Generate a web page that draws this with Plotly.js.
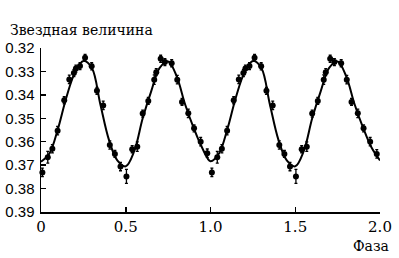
<!DOCTYPE html>
<html><head><meta charset="utf-8">
<script src="https://cdn.plot.ly/plotly-3.0.1.min.js"></script>
<style>html,body{margin:0;padding:0;background:#fff;}#chart{width:399px;height:258px;}</style>
</head><body><div id="chart"></div>
<script>
const phase = [0.008,0.040,0.067,0.098,0.137,0.167,0.194,0.206,0.230,0.260,0.299,0.330,0.367,0.406,0.436,0.469,0.504,0.538,0.568,0.600,0.633,0.668,0.680,0.706,0.731,0.771,0.804,0.832,0.869,0.903,0.942,0.981,
 1.008,1.040,1.067,1.098,1.137,1.167,1.194,1.206,1.230,1.260,1.299,1.330,1.367,1.406,1.436,1.469,1.504,1.538,1.568,1.600,1.633,1.668,1.680,1.706,1.731,1.771,1.804,1.832,1.869,1.903,1.942,1.981];
const mag = [0.3731,0.3666,0.3630,0.3553,0.3423,0.3334,0.3307,0.3288,0.3277,0.3242,0.3278,0.3383,0.3445,0.3614,0.3652,0.3706,0.3748,0.3632,0.3621,0.3480,0.3426,0.3335,0.3303,0.3246,0.3260,0.3265,0.3335,0.3430,0.3479,0.3543,0.3600,0.3649,
 0.3731,0.3666,0.3630,0.3553,0.3423,0.3334,0.3307,0.3288,0.3277,0.3242,0.3278,0.3383,0.3445,0.3614,0.3652,0.3706,0.3748,0.3632,0.3621,0.3480,0.3426,0.3335,0.3303,0.3246,0.3260,0.3265,0.3335,0.3430,0.3479,0.3543,0.3600,0.3652];
const err = [0.0018,0.0025,0.0018,0.0018,0.0015,0.0018,0.0015,0.0015,0.0015,0.0015,0.0015,0.0015,0.0018,0.0018,0.0015,0.0018,0.0030,0.0015,0.0020,0.0015,0.0015,0.0020,0.0015,0.0015,0.0015,0.0015,0.0018,0.0015,0.0018,0.0015,0.0018,0.0018,
 0.0018,0.0025,0.0018,0.0018,0.0015,0.0018,0.0015,0.0015,0.0015,0.0015,0.0015,0.0015,0.0018,0.0018,0.0015,0.0018,0.0030,0.0015,0.0020,0.0015,0.0015,0.0020,0.0015,0.0015,0.0015,0.0015,0.0018,0.0015,0.0018,0.0015,0.0018,0.0018];
const curvePhase = [0,0.05,0.10,0.15,0.20,0.25,0.30,0.35,0.40,0.45,0.50,0.55,0.60,0.65,0.70,0.75,0.80,0.85,0.90,0.95,
 1.00,1.05,1.10,1.15,1.20,1.25,1.30,1.35,1.40,1.45,1.50,1.55,1.60,1.65,1.70,1.75,1.80,1.85,1.90,1.95,2.00];
const curveMag = [0.3685,0.3650,0.3545,0.3410,0.3305,0.3255,0.3285,0.3440,0.3590,0.3680,0.3705,0.3640,0.3500,0.3385,0.3285,0.3258,0.3320,0.3440,0.3540,0.3625,
 0.3683,0.3650,0.3545,0.3410,0.3305,0.3255,0.3285,0.3440,0.3590,0.3680,0.3705,0.3640,0.3500,0.3385,0.3285,0.3258,0.3320,0.3440,0.3540,0.3625,0.3680];
const yTicks = [0.32,0.33,0.34,0.35,0.36,0.37,0.38,0.39];
const yTickText = ['0.32','0.33','0.34','0.35','0.36','0.37','0.38','0.39'];
const xTicks = [0,0.5,1.0,1.5,2.0];
const xTickText = ['0','0.5','1.0','1.5','2.0'];

const traces = [
 {x: curvePhase, y: curveMag, mode:'lines', line:{color:'#000', width:2, shape:'spline', smoothing:1}, hoverinfo:'skip', cliponaxis:false},
 {x: phase, y: mag, mode:'markers', marker:{color:'#000', size:6},
  error_y:{type:'data', array: err, visible:true, color:'#000', thickness:1.3, width:1.5}, cliponaxis:false}
];
const serif = '"DejaVu Serif", serif';
const layout = {
 width:399, height:258, showlegend:false,
 margin:{l:41, r:19, t:48, b:46},
 paper_bgcolor:'#fff', plot_bgcolor:'#fff',
 xaxis:{range:[0,2.0], tickvals:xTicks, ticktext:xTickText, ticks:'inside', ticklen:5, tickwidth:1.5, tickcolor:'#000',
   showline:true, linecolor:'#000', linewidth:1.5, showgrid:false, zeroline:false,
   tickfont:{family:serif, size:15, color:'#000'}, ticklabelstandoff:0},
 yaxis:{range:[0.39,0.32], tickvals:yTicks, ticktext:yTickText, ticks:'inside', ticklen:5, tickwidth:1.5, tickcolor:'#000',
   showline:true, linecolor:'#000', linewidth:1.5, showgrid:false, zeroline:false,
   tickfont:{family:'Liberation Sans', size:15, color:'#000'}, ticklabelstandoff:2},
 annotations:[
  {text:'Звездная величина', xref:'paper', yref:'paper', x:(8-41)/339, y:1, xanchor:'left', yanchor:'bottom', yshift:8, showarrow:false,
   font:{family:serif, size:14, color:'#000'}},
  {text:'Фаза', xref:'paper', yref:'paper', x:(391-41)/339, y:0, xanchor:'right', yanchor:'top', yshift:-24, showarrow:false,
   font:{family:serif, size:14, color:'#000'}}
 ]
};
Plotly.newPlot('chart', traces, layout, {displayModeBar:false, staticPlot:true});
</script></body></html>
